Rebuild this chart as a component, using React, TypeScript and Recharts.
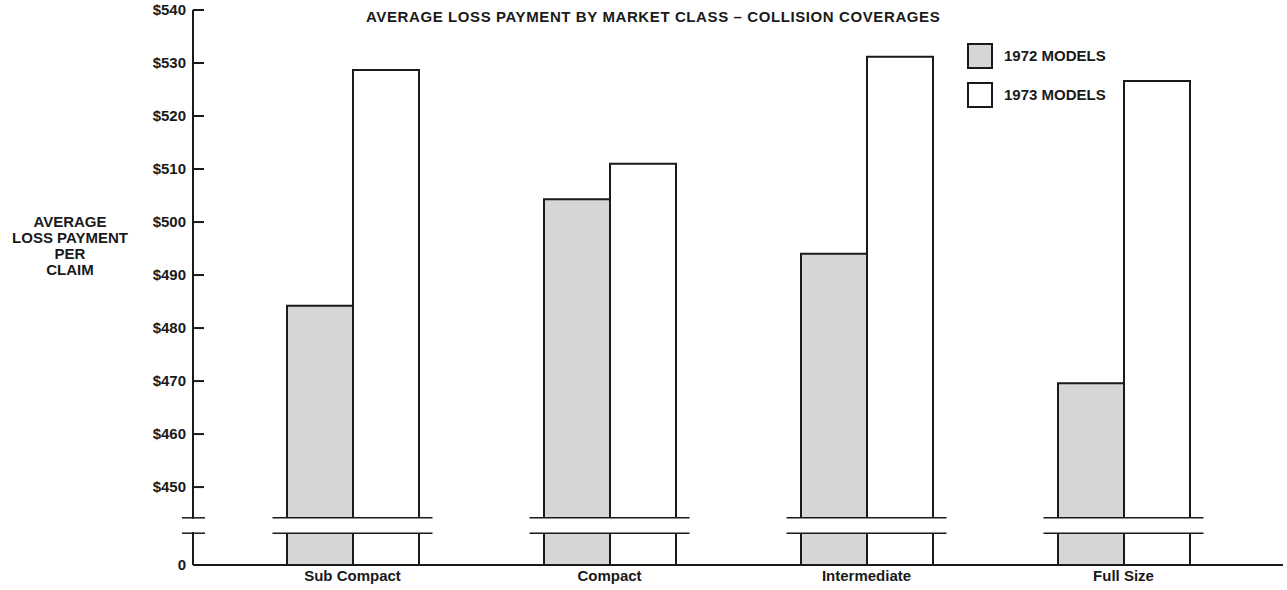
import { BarChart, Bar, XAxis, YAxis, ReferenceArea, Legend } from 'recharts';

const categories = ['Sub Compact', 'Compact', 'Intermediate', 'Full Size'];
const models1972 = [484.2, 504.3, 494.0, 469.6];
const models1973 = [528.7, 511.0, 531.2, 526.6];
const yTicks = [450, 460, 470, 480, 490, 500, 510, 520, 530, 540];

// value axis starts just below $450 and is broken above the zero line
const axisFloor = 435.3;
const breakLow = 441.3;
const breakHigh = 444.2;

const data = categories.map((name, i) => ({
    name,
    m1972: models1972[i],
    m1973: models1973[i],
}));

const INK = '#1a1a1a';
const SHADE = '#d6d6d6';
const FONT = '"Liberation Sans", Arial, Helvetica, sans-serif';
const BAR_SIZE = 66;
const X_PAD = 31;

const seriesConfig = [
    { key: 'm1972', label: '1972 MODELS', fill: SHADE },
    { key: 'm1973', label: '1973 MODELS', fill: '#ffffff' },
];

function ValueTick({ x, y, payload }: any) {
    const isFloor = payload.value === axisFloor;
    return (
        <g>
            {!isFloor && <line x1={x} x2={x + 11} y1={y} y2={y} stroke={INK} strokeWidth={2} />}
            <text
                x={x - 7}
                y={y}
                dy="0.36em"
                textAnchor="end"
                fontSize={15}
                fontWeight="bold"
                fill={INK}
                fontFamily={FONT}
            >
                {isFloor ? '0' : `$${payload.value}`}
            </text>
        </g>
    );
}

// white gap with two rules across a pair of bars
function BarBreak({ x, y, width, height }: any) {
    const cx = x + width / 2;
    const half = BAR_SIZE + 14;
    return (
        <g>
            <rect x={cx - half} y={y} width={half * 2} height={height} fill="#fff" />
            <line x1={cx - half} x2={cx + half} y1={y} y2={y} stroke={INK} strokeWidth={1.5} />
            <line x1={cx - half} x2={cx + half} y1={y + height} y2={y + height} stroke={INK} strokeWidth={1.5} />
        </g>
    );
}

// same break on the value axis; the area starts at the padded category range
function AxisBreak({ x, y, height }: any) {
    const ax = x - X_PAD;
    return (
        <g>
            <rect x={ax - 4} y={y + 1} width={8} height={height - 2} fill="#fff" />
            <line x1={ax - 11} x2={ax + 12} y1={y} y2={y} stroke={INK} strokeWidth={1.5} />
            <line x1={ax - 11} x2={ax + 12} y1={y + height} y2={y + height} stroke={INK} strokeWidth={1.5} />
        </g>
    );
}

function ModelLegend() {
    return (
        <div style={{ fontFamily: FONT }}>
            {seriesConfig.map((item) => (
                <div key={item.key} style={{ display: 'flex', alignItems: 'center', height: 39 }}>
                    <span
                        style={{
                            display: 'inline-block',
                            width: 22,
                            height: 22,
                            border: `2px solid ${INK}`,
                            background: item.fill,
                            marginRight: 11,
                        }}
                    />
                    <span style={{ fontSize: 15, fontWeight: 'bold', color: INK }}>{item.label}</span>
                </div>
            ))}
        </div>
    );
}

export default function App() {
    return (
        <div style={{ position: 'absolute', left: 0, top: 0, width: 1287, height: 590, background: '#fff', fontFamily: FONT }}>
            <div
                style={{
                    position: 'absolute',
                    left: 366,
                    top: 8,
                    fontSize: 15,
                    fontWeight: 'bold',
                    letterSpacing: 0.6,
                    color: INK,
                    whiteSpace: 'nowrap',
                }}
            >
                AVERAGE LOSS PAYMENT BY MARKET CLASS – COLLISION COVERAGES
            </div>
            <div
                style={{
                    position: 'absolute',
                    left: 0,
                    top: 214,
                    width: 140,
                    textAlign: 'center',
                    fontSize: 15,
                    lineHeight: '16px',
                    fontWeight: 'bold',
                    color: INK,
                }}
            >
                AVERAGE
                <br />
                LOSS PAYMENT
                <br />
                PER
                <br />
                CLAIM
            </div>
            <BarChart
                width={1287}
                height={590}
                data={data}
                barSize={BAR_SIZE}
                barGap={0}
                margin={{ top: 10, right: 4, bottom: 0, left: 10 }}
            >
                <XAxis
                    dataKey="name"
                    padding={{ left: X_PAD, right: X_PAD }}
                    height={25}
                    tickLine={false}
                    tickSize={0}
                    tickMargin={5}
                    axisLine={{ stroke: INK, strokeWidth: 2 }}
                    tick={{ fontSize: 15, fontWeight: 'bold', fill: INK, fontFamily: FONT }}
                />
                <YAxis
                    type="number"
                    width={183}
                    domain={[axisFloor, 540]}
                    ticks={[axisFloor, ...yTicks]}
                    interval={0}
                    allowDataOverflow
                    tickLine={false}
                    tickSize={0}
                    tickMargin={0}
                    axisLine={{ stroke: INK, strokeWidth: 2 }}
                    tick={<ValueTick />}
                />
                <Legend
                    layout="vertical"
                    align="center"
                    verticalAlign="middle"
                    wrapperStyle={{ left: 967, top: 36, width: 200 }}
                    content={<ModelLegend />}
                />
                {seriesConfig.map((item) => (
                    <Bar
                        key={item.key}
                        dataKey={item.key}
                        name={item.label}
                        fill={item.fill}
                        stroke={INK}
                        strokeWidth={2}
                        isAnimationActive={false}
                    />
                ))}
                {categories.map((name) => (
                    <ReferenceArea
                        key={name}
                        x1={name}
                        x2={name}
                        y1={breakLow}
                        y2={breakHigh}
                        zIndex={1000}
                        shape={<BarBreak />}
                    />
                ))}
                <ReferenceArea y1={breakLow} y2={breakHigh} zIndex={1000} shape={<AxisBreak />} />
            </BarChart>
        </div>
    );
}
